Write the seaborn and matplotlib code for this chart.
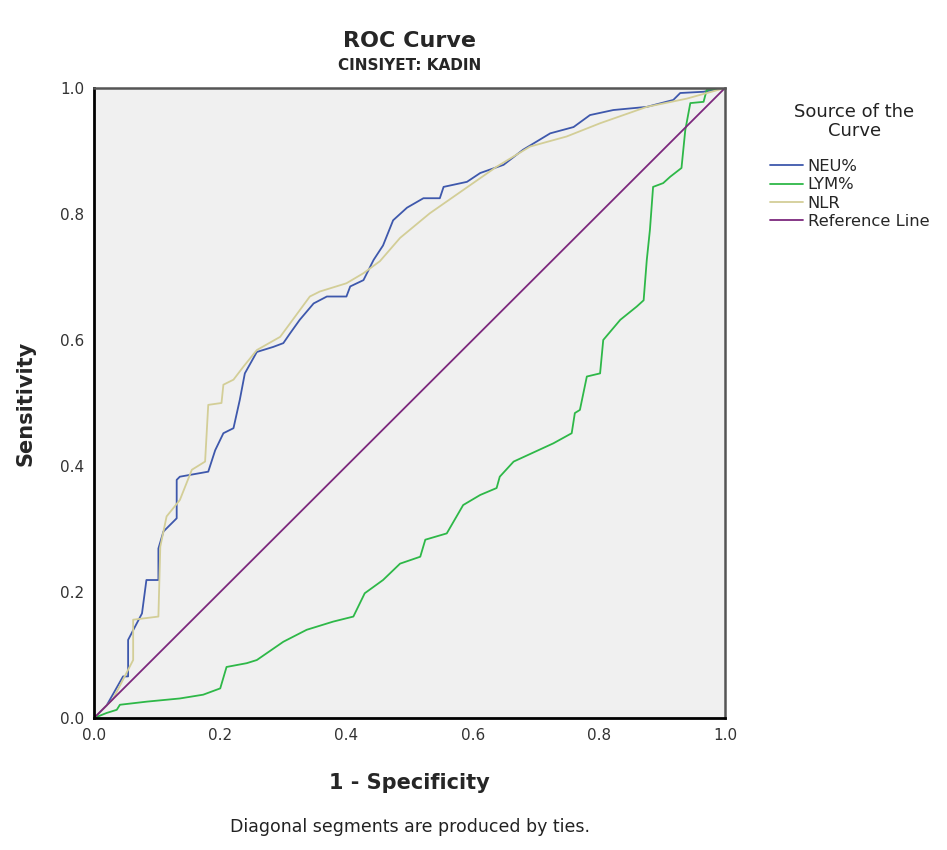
import numpy as np
import pandas as pd
import seaborn as sns
import matplotlib.pyplot as plt

# ROC points (1 - specificity, sensitivity)
neu_x = [0.0, 0.02, 0.046, 0.054, 0.054, 0.065, 0.076, 0.083, 0.102, 0.102, 0.110, 0.131, 0.131,
         0.136, 0.181, 0.192, 0.205, 0.221, 0.231, 0.239, 0.258, 0.284, 0.300, 0.311, 0.326, 0.348,
         0.369, 0.400, 0.406, 0.427, 0.443, 0.458, 0.474, 0.496, 0.522, 0.548, 0.554, 0.591, 0.612,
         0.649, 0.680, 0.723, 0.760, 0.786, 0.823, 0.876, 0.918, 0.929, 0.966, 1.0]
neu_y = [0.0, 0.02, 0.066, 0.066, 0.124, 0.145, 0.166, 0.219, 0.219, 0.269, 0.296, 0.317, 0.378,
         0.383, 0.391, 0.425, 0.452, 0.460, 0.505, 0.547, 0.581, 0.589, 0.595, 0.611, 0.632, 0.658,
         0.669, 0.669, 0.685, 0.695, 0.727, 0.750, 0.790, 0.810, 0.825, 0.825, 0.843, 0.851, 0.865,
         0.878, 0.902, 0.928, 0.938, 0.957, 0.965, 0.970, 0.981, 0.992, 0.994, 1.0]

lym_x = [0.0, 0.02, 0.036, 0.041, 0.084, 0.136, 0.173, 0.200, 0.210, 0.242, 0.258, 0.300, 0.337,
         0.379, 0.411, 0.429, 0.458, 0.485, 0.517, 0.525, 0.559, 0.585, 0.612, 0.638, 0.643, 0.665,
         0.728, 0.757, 0.762, 0.770, 0.781, 0.802, 0.807, 0.834, 0.860, 0.871, 0.876, 0.881, 0.886,
         0.902, 0.913, 0.931, 0.937, 0.945, 0.966, 0.971, 1.0]
lym_y = [0.0, 0.008, 0.013, 0.021, 0.026, 0.031, 0.037, 0.047, 0.081, 0.087, 0.092, 0.121, 0.140,
         0.153, 0.161, 0.198, 0.219, 0.245, 0.256, 0.283, 0.293, 0.338, 0.354, 0.365, 0.383, 0.407,
         0.436, 0.452, 0.484, 0.489, 0.542, 0.547, 0.600, 0.632, 0.653, 0.663, 0.727, 0.775, 0.843,
         0.849, 0.859, 0.873, 0.933, 0.976, 0.978, 0.997, 1.0]

nlr_x = [0.0, 0.03, 0.062, 0.062, 0.102, 0.105, 0.115, 0.136, 0.155, 0.176, 0.181, 0.202, 0.205,
         0.221, 0.237, 0.258, 0.295, 0.342, 0.358, 0.400, 0.427, 0.453, 0.485, 0.532, 0.585, 0.638,
         0.691, 0.749, 0.802, 0.876, 0.939, 1.0]
nlr_y = [0.0, 0.03, 0.092, 0.156, 0.161, 0.272, 0.320, 0.346, 0.394, 0.407, 0.497, 0.500, 0.529,
         0.537, 0.558, 0.584, 0.605, 0.669, 0.677, 0.690, 0.706, 0.725, 0.762, 0.801, 0.838, 0.875,
         0.907, 0.923, 0.944, 0.970, 0.983, 1.0]

ref_x = [0.0, 1.0]
ref_y = [0.0, 1.0]

series = ["NEU%", "LYM%", "NLR", "Reference Line"]
colors = ["#3E58AC", "#2EB848", "#D3CE97", "#7C287D"]

frames = []
for name, xs, ys in zip(series, [neu_x, lym_x, nlr_x, ref_x], [neu_y, lym_y, nlr_y, ref_y]):
    frames.append(pd.DataFrame({"fpr": xs, "tpr": ys, "curve": name}))
roc = pd.concat(frames, ignore_index=True)

sns.set_style("white")
plt.rcParams['font.family'] = ['DejaVu Sans']

fig = plt.figure(figsize=(9.47, 8.5), dpi=100)
ax = fig.add_axes([0.0993, 0.1553, 0.6663, 0.7412])
ax.set_facecolor("#F0F0F0")

sns.lineplot(data=roc, x="fpr", y="tpr", hue="curve", hue_order=series,
             palette=dict(zip(series, colors)), sort=False, estimator=None,
             units="curve", linewidth=1.3, ax=ax, legend=False)

ax.set_xlim(0, 1)
ax.set_ylim(0, 1)
ticks = [0.0, 0.2, 0.4, 0.6, 0.8, 1.0]
ax.set_xticks(ticks)
ax.set_yticks(ticks)
ax.set_xticklabels([f"{t:.1f}" for t in ticks], fontsize=11, color="#333333")
ax.set_yticklabels([f"{t:.1f}" for t in ticks], fontsize=11, color="#333333")
ax.tick_params(direction="out", length=5, width=1.5, color="black", pad=2)

for side in ["left", "bottom"]:
    ax.spines[side].set_color("black")
    ax.spines[side].set_linewidth(2)
for side in ["top", "right"]:
    ax.spines[side].set_color("#555555")
    ax.spines[side].set_linewidth(1.8)

ax.set_xlabel("1 - Specificity", fontsize=15, fontweight="bold", labelpad=22)
ax.set_ylabel("Sensitivity", fontsize=15, fontweight="bold", labelpad=18)
ax.set_title("CINSIYET: KADIN", fontsize=11, fontweight="bold", pad=13)

fig.text(0.4325, 0.952, "ROC Curve", fontsize=16, fontweight="bold", ha="center", va="center")
fig.text(0.4325, 0.027, "Diagonal segments are produced by ties.", fontsize=12.5,
         ha="center", va="center", color="#222222")

# legend title drawn on its own so the gap above the entries matches
fig.text(0.902, 0.857, "Source of the\nCurve", fontsize=13, ha="center", va="center",
         multialignment="center", linespacing=1.1, color="#222222")
handles = [plt.Line2D([], [], color=c, linewidth=1.3) for c in colors]
fig.legend(handles, series, loc="upper left", bbox_to_anchor=(0.8045, 0.8225),
           frameon=False, fontsize=11.8, handlelength=2.0, handletextpad=0.3,
           labelspacing=0.2, borderpad=0)

fig.savefig("out.png", dpi=100, facecolor="white")
